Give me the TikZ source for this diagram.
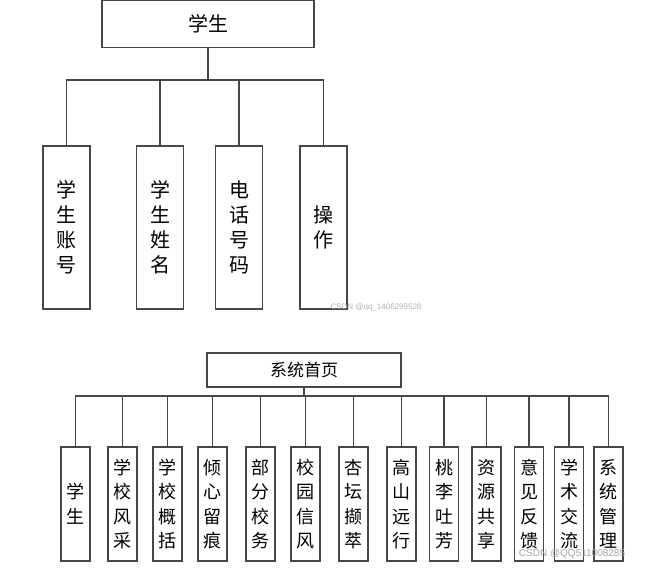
\documentclass[tikz,border=0pt]{standalone}
\usepackage{fontspec}
\newfontfamily\cjk{Noto Sans CJK SC}
\newfontfamily\wmfont{Liberation Sans}
\begin{document}
\begin{tikzpicture}[x=1pt,y=-1pt,
  linecol/.style={draw=black!72, line width=1.2pt},
  box/.style={linecol, fill=white, inner sep=0pt, align=center},
  rootbox/.style={box, font=\cjk\fontsize{20}{24}\selectfont},
  colbox/.style={box, minimum width=47pt, minimum height=163pt, font=\cjk\fontsize{20}{25}\selectfont},
  homebox/.style={box, minimum width=194pt, minimum height=34pt, font=\cjk\fontsize{17}{20}\selectfont},
  smallbox/.style={box, minimum width=29pt, minimum height=114pt, font=\cjk\fontsize{18}{24.5}\selectfont},
  conn/.style={linecol},
  wm/.style={text=black!30, font=\wmfont\fontsize{8}{9}\selectfont, inner sep=0pt}
]
\useasboundingbox (0,0) rectangle (653,569);

% ---- top tree ----
\node[rootbox, minimum width=212pt, minimum height=47pt] (root) at (208,23.8) {学生};
\node[colbox] (a1) at (66.5,227.5) {学\\生\\账\\号};
\node[colbox] (a2) at (160,227.5) {学\\生\\姓\\名};
\node[colbox] (a3) at (239,227.5) {电\\话\\号\\码};
\node[colbox] (a4) at (323.5,227.5) {操\\作};
\coordinate (busa) at (208,80);
\draw[conn] (root.south) -- (busa);
\foreach \n in {a1,a2,a3,a4} \draw[conn] (busa) -| (\n.north);

\node[wm] (wm1) at (376,307) {CSDN @qq\_1406299528};

% ---- bottom tree ----
\node[homebox] (home) at (304,370) {系统首页};
\coordinate (busb) at (304,396);
\draw[conn] (home.south) -- (busb);
\node[smallbox] (b1) at (75.5,504) {学\\生};
\node[smallbox] (b2) at (122.5,504) {学\\校\\风\\采};
\node[smallbox] (b3) at (167.5,504) {学\\校\\概\\括};
\node[smallbox] (b4) at (212.5,504) {倾\\心\\留\\痕};
\node[smallbox] (b5) at (260.5,504) {部\\分\\校\\务};
\node[smallbox] (b6) at (305.5,504) {校\\园\\信\\风};
\node[smallbox] (b7) at (353.5,504) {杏\\坛\\撷\\萃};
\node[smallbox] (b8) at (401.5,504) {高\\山\\远\\行};
\node[smallbox] (b9) at (444,504) {桃\\李\\吐\\芳};
\node[smallbox] (b10) at (486.5,504) {资\\源\\共\\享};
\node[smallbox] (b11) at (529,504) {意\\见\\反\\馈};
\node[smallbox] (b12) at (569,504) {学\\术\\交\\流};
\node[smallbox] (b13) at (608.5,504) {系\\统\\管\\理};
\foreach \n in {b1,b2,b3,b4,b5,b6,b7,b8,b9,b10,b11,b12,b13} \draw[conn] (busb) -| (\n.north);

\node[wm, font=\wmfont\fontsize{10}{11}\selectfont, text=black!35] (wm2) at (572,554) {CSDN @QQ511008285};
\end{tikzpicture}
\end{document}
